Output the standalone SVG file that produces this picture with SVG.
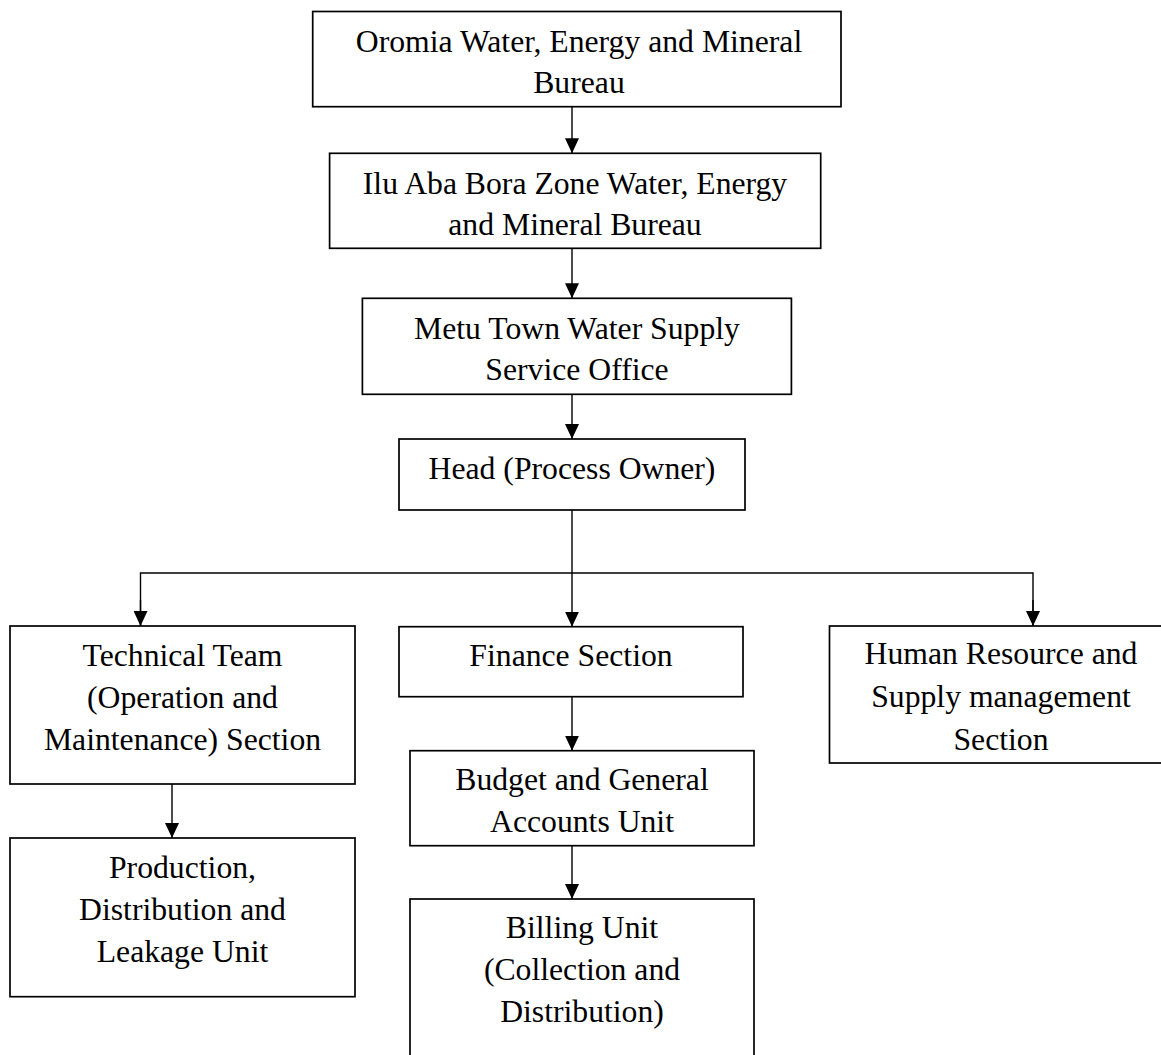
<svg xmlns="http://www.w3.org/2000/svg" width="1161" height="1055" viewBox="0 0 1161 1055">
<style>
  .box { fill: #ffffff; stroke: #000000; stroke-width: 1.7; }
  .lbl { font-family: "Liberation Serif", "Times New Roman", serif; font-size: 31.7px; fill: #000000; text-anchor: middle; }
  .conn { fill: none; stroke: #000000; stroke-width: 1.4; }
</style>
<defs>
  <marker id="arrow" markerUnits="userSpaceOnUse" markerWidth="15" markerHeight="14" refX="15" refY="7" orient="auto">
    <path d="M0,0 L15,7 L0,14 z" fill="#000000"/>
  </marker>
</defs>
<rect width="1161" height="1055" fill="#ffffff"/>

<g id="connectors">
  <line class="conn" x1="572" y1="107" x2="572" y2="153.3" marker-end="url(#arrow)"/>
  <line class="conn" x1="572" y1="248.3" x2="572" y2="298.3" marker-end="url(#arrow)"/>
  <line class="conn" x1="572" y1="394.3" x2="572" y2="439" marker-end="url(#arrow)"/>
  <line class="conn" x1="572" y1="510" x2="572" y2="626.7" marker-end="url(#arrow)"/>
  <polyline class="conn" points="140.5,626 140.5,573 1033,573 1033,626"/>
  <line class="conn" x1="140.5" y1="600" x2="140.5" y2="626" marker-end="url(#arrow)"/>
  <line class="conn" x1="1033" y1="600" x2="1033" y2="626" marker-end="url(#arrow)"/>
  <line class="conn" x1="172" y1="784" x2="172" y2="838" marker-end="url(#arrow)"/>
  <line class="conn" x1="572" y1="696.7" x2="572" y2="750.7" marker-end="url(#arrow)"/>
  <line class="conn" x1="572" y1="845.7" x2="572" y2="899" marker-end="url(#arrow)"/>
</g>

<g id="oromia-bureau">
  <rect class="box" x="312.7" y="11.5" width="528.3" height="95.2"/>
  <text class="lbl" x="579" y="51.5">Oromia Water, Energy and Mineral</text>
  <text class="lbl" x="579" y="92.5">Bureau</text>
</g>

<g id="zone-bureau">
  <rect class="box" x="329.6" y="153.3" width="491.1" height="95"/>
  <text class="lbl" x="575" y="193.5">Ilu Aba Bora Zone Water, Energy</text>
  <text class="lbl" x="575" y="235">and Mineral Bureau</text>
</g>

<g id="metu-office">
  <rect class="box" x="362.4" y="298.3" width="429" height="96"/>
  <text class="lbl" x="577" y="338.5">Metu Town Water Supply</text>
  <text class="lbl" x="577" y="380">Service Office</text>
</g>

<g id="head">
  <rect class="box" x="399" y="439" width="346" height="71"/>
  <text class="lbl" x="572" y="479">Head (Process Owner)</text>
</g>

<g id="technical-team">
  <rect class="box" x="10" y="626" width="345" height="158"/>
  <text class="lbl" x="182.5" y="666">Technical Team</text>
  <text class="lbl" x="182.5" y="708">(Operation and</text>
  <text class="lbl" x="182.5" y="750">Maintenance) Section</text>
</g>

<g id="production">
  <rect class="box" x="10" y="838" width="345" height="158.7"/>
  <text class="lbl" x="182.5" y="878">Production,</text>
  <text class="lbl" x="182.5" y="920">Distribution and</text>
  <text class="lbl" x="182.5" y="962">Leakage Unit</text>
</g>

<g id="finance">
  <rect class="box" x="399" y="626.7" width="344" height="70"/>
  <text class="lbl" x="571" y="666">Finance Section</text>
</g>

<g id="budget">
  <rect class="box" x="410" y="750.7" width="344" height="95"/>
  <text class="lbl" x="582" y="790">Budget and General</text>
  <text class="lbl" x="582" y="832">Accounts Unit</text>
</g>

<g id="billing">
  <rect class="box" x="410" y="899" width="344" height="170"/>
  <text class="lbl" x="582" y="938">Billing Unit</text>
  <text class="lbl" x="582" y="980">(Collection and</text>
  <text class="lbl" x="582" y="1022">Distribution)</text>
</g>

<g id="human-resource">
  <rect class="box" x="829.5" y="626" width="343" height="137"/>
  <text class="lbl" x="1001" y="664">Human Resource and</text>
  <text class="lbl" x="1001" y="707">Supply management</text>
  <text class="lbl" x="1001" y="750">Section</text>
</g>
</svg>
